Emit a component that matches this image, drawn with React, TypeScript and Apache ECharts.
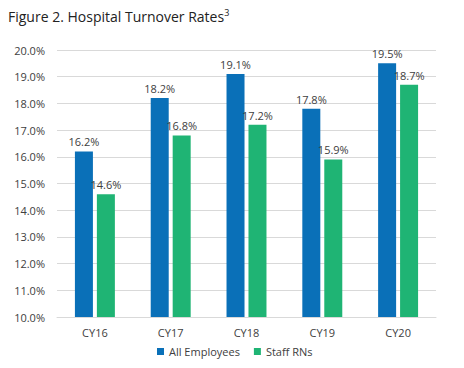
import React, { useEffect, useRef } from "react";
import * as echarts from "echarts";

const categories = ["CY16", "CY17", "CY18", "CY19", "CY20"];
const allEmployees = [16.2, 18.2, 19.1, 17.8, 19.5];
const staffRNs = [14.6, 16.8, 17.2, 15.9, 18.7];

export default function App() {
  const ref = useRef<HTMLDivElement>(null);
  useEffect(() => {
    const chart = echarts.init(ref.current!, null, { renderer: "svg" });
    const font = "'Open Sans', sans-serif";
    const label = {
      show: true,
      position: "top" as const,
      formatter: (p: any) => p.value.toFixed(1) + "%",
      color: "#404040",
      fontSize: 11,
      fontFamily: font,
      distance: 4,
    };
    chart.setOption({
      animation: false,
      backgroundColor: "#ffffff",
      title: {
        text: "Figure 2. Hospital Turnover Rates{sup|3}",
        left: 3,
        top: 3,
        textStyle: {
          fontSize: 14,
          fontWeight: "normal",
          color: "#222",
          fontFamily: font,
          rich: {
            sup: { fontSize: 9, verticalAlign: "top", padding: [0, 0, 8, 0], color: "#222", fontFamily: font },
          },
        },
      },
      legend: {
        bottom: 6,
        left: 152,
        itemWidth: 7,
        itemHeight: 7,
        itemGap: 14,
        icon: "rect",
        textStyle: { fontSize: 11, color: "#404040", fontFamily: font },
        data: ["All Employees", "Staff RNs"],
      },
      grid: { left: 57, right: 28, top: 50, bottom: 51 },
      xAxis: {
        type: "category",
        data: categories,
        axisLine: { lineStyle: { color: "#d9d9d9" } },
        axisTick: { show: false },
        axisLabel: { color: "#404040", fontSize: 11, fontFamily: font, margin: 10 },
      },
      yAxis: {
        type: "value",
        min: 10,
        max: 20,
        interval: 1,
        axisLabel: {
          formatter: (v: number) => v.toFixed(1) + "%",
          color: "#404040",
          fontSize: 11,
          fontFamily: font,
          margin: 12,
        },
        axisLine: { show: false },
        axisTick: { show: false },
        splitLine: { lineStyle: { color: "#d9d9d9" } },
      },
      series: [
        {
          name: "All Employees",
          type: "bar",
          data: allEmployees,
          barWidth: 18,
          barGap: "22%",
          itemStyle: { color: "#0a70b8" },
          label,
        },
        {
          name: "Staff RNs",
          type: "bar",
          data: staffRNs,
          barWidth: 18,
          itemStyle: { color: "#1fb474" },
          label,
        },
      ],
    });
    return () => chart.dispose();
  }, []);
  return (
    <div
      ref={ref}
      style={{ position: "absolute", left: 0, top: 0, width: 464, height: 368 }}
    />
  );
}
